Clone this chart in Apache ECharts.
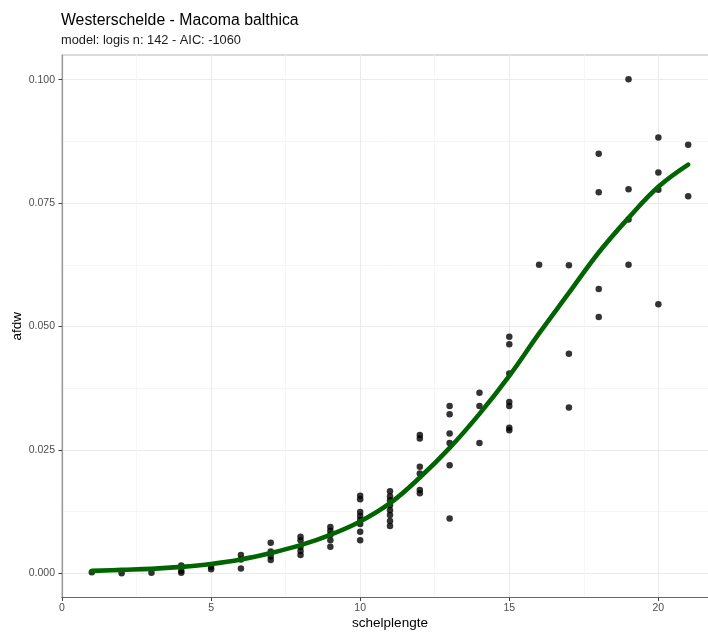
<!DOCTYPE html>
<html>
<head>
<meta charset="utf-8">
<script src="https://cdn.jsdelivr.net/npm/echarts@6/dist/echarts.min.js"></script>
<style>
html,body{margin:0;padding:0;background:#fff;}
#chart{width:708px;height:632px;}
</style>
</head>
<body>
<div id="chart"></div>
<script>
// Observed points: shell length (x) and afdw (y)
const shellLength = [
  1, 2, 3,
  4, 4, 4,
  5, 5,
  6, 6, 6,
  7, 7, 7, 7,
  8, 8, 8, 8, 8,
  9, 9, 9, 9, 9,
  10, 10, 10, 10, 10, 10, 10, 10,
  11, 11, 11, 11, 11, 11, 11, 11,
  12, 12, 12, 12, 12, 12,
  13, 13, 13, 13, 13, 13,
  14, 14, 14,
  15, 15, 15, 15, 15, 15, 15,
  16,
  17, 17, 17,
  18, 18, 18, 18,
  19, 19, 19, 19,
  20, 20, 20, 20,
  21, 21
];
const afdwValues = [
  0.0002, 0.0000, 0.0001,
  0.0016, 0.0005, 0.0001,
  0.0013, 0.0008,
  0.0037, 0.0028, 0.0010,
  0.0062, 0.0044, 0.0034, 0.0027,
  0.0074, 0.0067, 0.0054, 0.0045, 0.0037,
  0.0094, 0.0086, 0.0078, 0.0067, 0.0054,
  0.0157, 0.0150, 0.0124, 0.0116, 0.0108, 0.0100, 0.0084, 0.0067,
  0.0166, 0.0156, 0.0148, 0.0138, 0.0128, 0.0118, 0.0106, 0.0096,
  0.0280, 0.0273, 0.0216, 0.0202, 0.0169, 0.0162,
  0.0339, 0.0322, 0.0283, 0.0264, 0.0219, 0.0111,
  0.0366, 0.0339, 0.0264,
  0.0479, 0.0464, 0.0405, 0.0347, 0.0339, 0.0295, 0.0290,
  0.0625,
  0.0624, 0.0445, 0.0336,
  0.0850, 0.0772, 0.0576, 0.0519,
  0.1001, 0.0778, 0.0717, 0.0625,
  0.0883, 0.0812, 0.0777, 0.0545,
  0.0868, 0.0764
];
// Fitted logistic curve
const curveX = [1, 2, 3, 4, 5, 6, 7, 8, 9, 10, 11, 12, 13, 14, 15, 16, 17, 18, 19, 20, 21];
const curveY = [0.0005, 0.0007, 0.0009, 0.0013, 0.0019, 0.0028, 0.0041, 0.0057, 0.0078, 0.0105,
                0.0142, 0.0194, 0.0254, 0.0323, 0.0400, 0.0486, 0.0568, 0.0650, 0.0720, 0.0783, 0.0828];
// Tick positions
const xMajorTicks = [0, 5, 10, 15, 20];
const xMinorTicks = [2.5, 7.5, 12.5, 17.5];
const yMajorTicks = [0, 0.025, 0.05, 0.075, 0.1];
const yMinorTicks = [0.0125, 0.0375, 0.0625, 0.0875];

const titleText = 'Westerschelde - Macoma balthica';
const subtitleText = 'model: logis n: 142 - AIC: -1060';
const xName = 'schelplengte';
const yName = 'afdw';

const FONT = '"Liberation Sans", Arial, Helvetica, sans-serif';
const X_MIN = 0, X_MAX = 22, Y_MIN = -0.0049, Y_MAX = 0.1050;

const points = shellLength.map((x, i) => [x, afdwValues[i]]);
const curve = curveX.map((x, i) => [x, curveY[i]]);

const chart = echarts.init(document.getElementById('chart'), null, {renderer: 'canvas'});
chart.setOption({
  animation: false,
  backgroundColor: '#ffffff',
  title: [
    {text: titleText, left: 61, top: 13, padding: 0,
     textStyle: {fontFamily: FONT, fontSize: 15.8, fontWeight: 'normal', color: '#000'}},
    {text: subtitleText, left: 61, top: 34, padding: 0,
     textStyle: {fontFamily: FONT, fontSize: 12.8, fontWeight: 'normal', color: '#1a1a1a'}}
  ],
  grid: {left: 62, top: 55, right: -10, bottom: 34.5, show: true,
         outerBoundsMode: 'none', containLabel: false,
         borderColor: '#b8b8b8', borderWidth: 1.2, backgroundColor: '#fff'},
  xAxis: [
    {type: 'value', min: X_MIN, max: X_MAX, position: 'bottom',
     name: xName, nameLocation: 'middle', nameGap: 19, nameMoveOverlap: false,
     nameTextStyle: {fontFamily: FONT, fontSize: 13.5, color: '#000'},
     axisLine: {show: true, onZero: false, lineStyle: {color: '#666', width: 1.2}},
     axisTick: {show: true, length: 3.5, customValues: xMajorTicks, lineStyle: {color: '#444', width: 1}},
     axisLabel: {customValues: xMajorTicks, margin: 5, fontFamily: FONT, fontSize: 10.5, color: '#4d4d4d'},
     splitLine: {show: true, lineStyle: {color: '#ebebeb', width: 1.1}}},
    {type: 'value', min: X_MIN, max: X_MAX, position: 'bottom',
     axisLine: {show: false}, axisTick: {show: false, customValues: xMinorTicks},
     axisLabel: {show: false, customValues: xMinorTicks},
     splitLine: {show: true, lineStyle: {color: '#f4f4f4', width: 0.8}}}
  ],
  yAxis: [
    {type: 'value', min: Y_MIN, max: Y_MAX, position: 'left',
     name: yName, nameLocation: 'middle', nameGap: 38, nameMoveOverlap: false,
     nameTextStyle: {fontFamily: FONT, fontSize: 13.5, color: '#000'},
     axisLine: {show: true, onZero: false, lineStyle: {color: '#999', width: 1.2}},
     axisTick: {show: true, length: 3.5, customValues: yMajorTicks, lineStyle: {color: '#444', width: 1}},
     axisLabel: {customValues: yMajorTicks, margin: 7, fontFamily: FONT, fontSize: 10.5, color: '#4d4d4d',
                 formatter: v => v.toFixed(3)},
     splitLine: {show: true, lineStyle: {color: '#ebebeb', width: 1.1}}},
    {type: 'value', min: Y_MIN, max: Y_MAX, position: 'left',
     axisLine: {show: false}, axisTick: {show: false, customValues: yMinorTicks},
     axisLabel: {show: false, customValues: yMinorTicks},
     splitLine: {show: true, lineStyle: {color: '#f4f4f4', width: 0.8}}}
  ],
  series: [
    {type: 'scatter', xAxisIndex: 0, yAxisIndex: 0, data: points, symbol: 'circle', symbolSize: 6.5,
     itemStyle: {color: '#000'}, z: 2, silent: true},
    {type: 'line', xAxisIndex: 0, yAxisIndex: 0, data: curve, smooth: 0.4, showSymbol: false,
     lineStyle: {color: '#006400', width: 4.6, cap: 'round'}, z: 3, silent: true}
  ]
});
</script>
</body>
</html>
